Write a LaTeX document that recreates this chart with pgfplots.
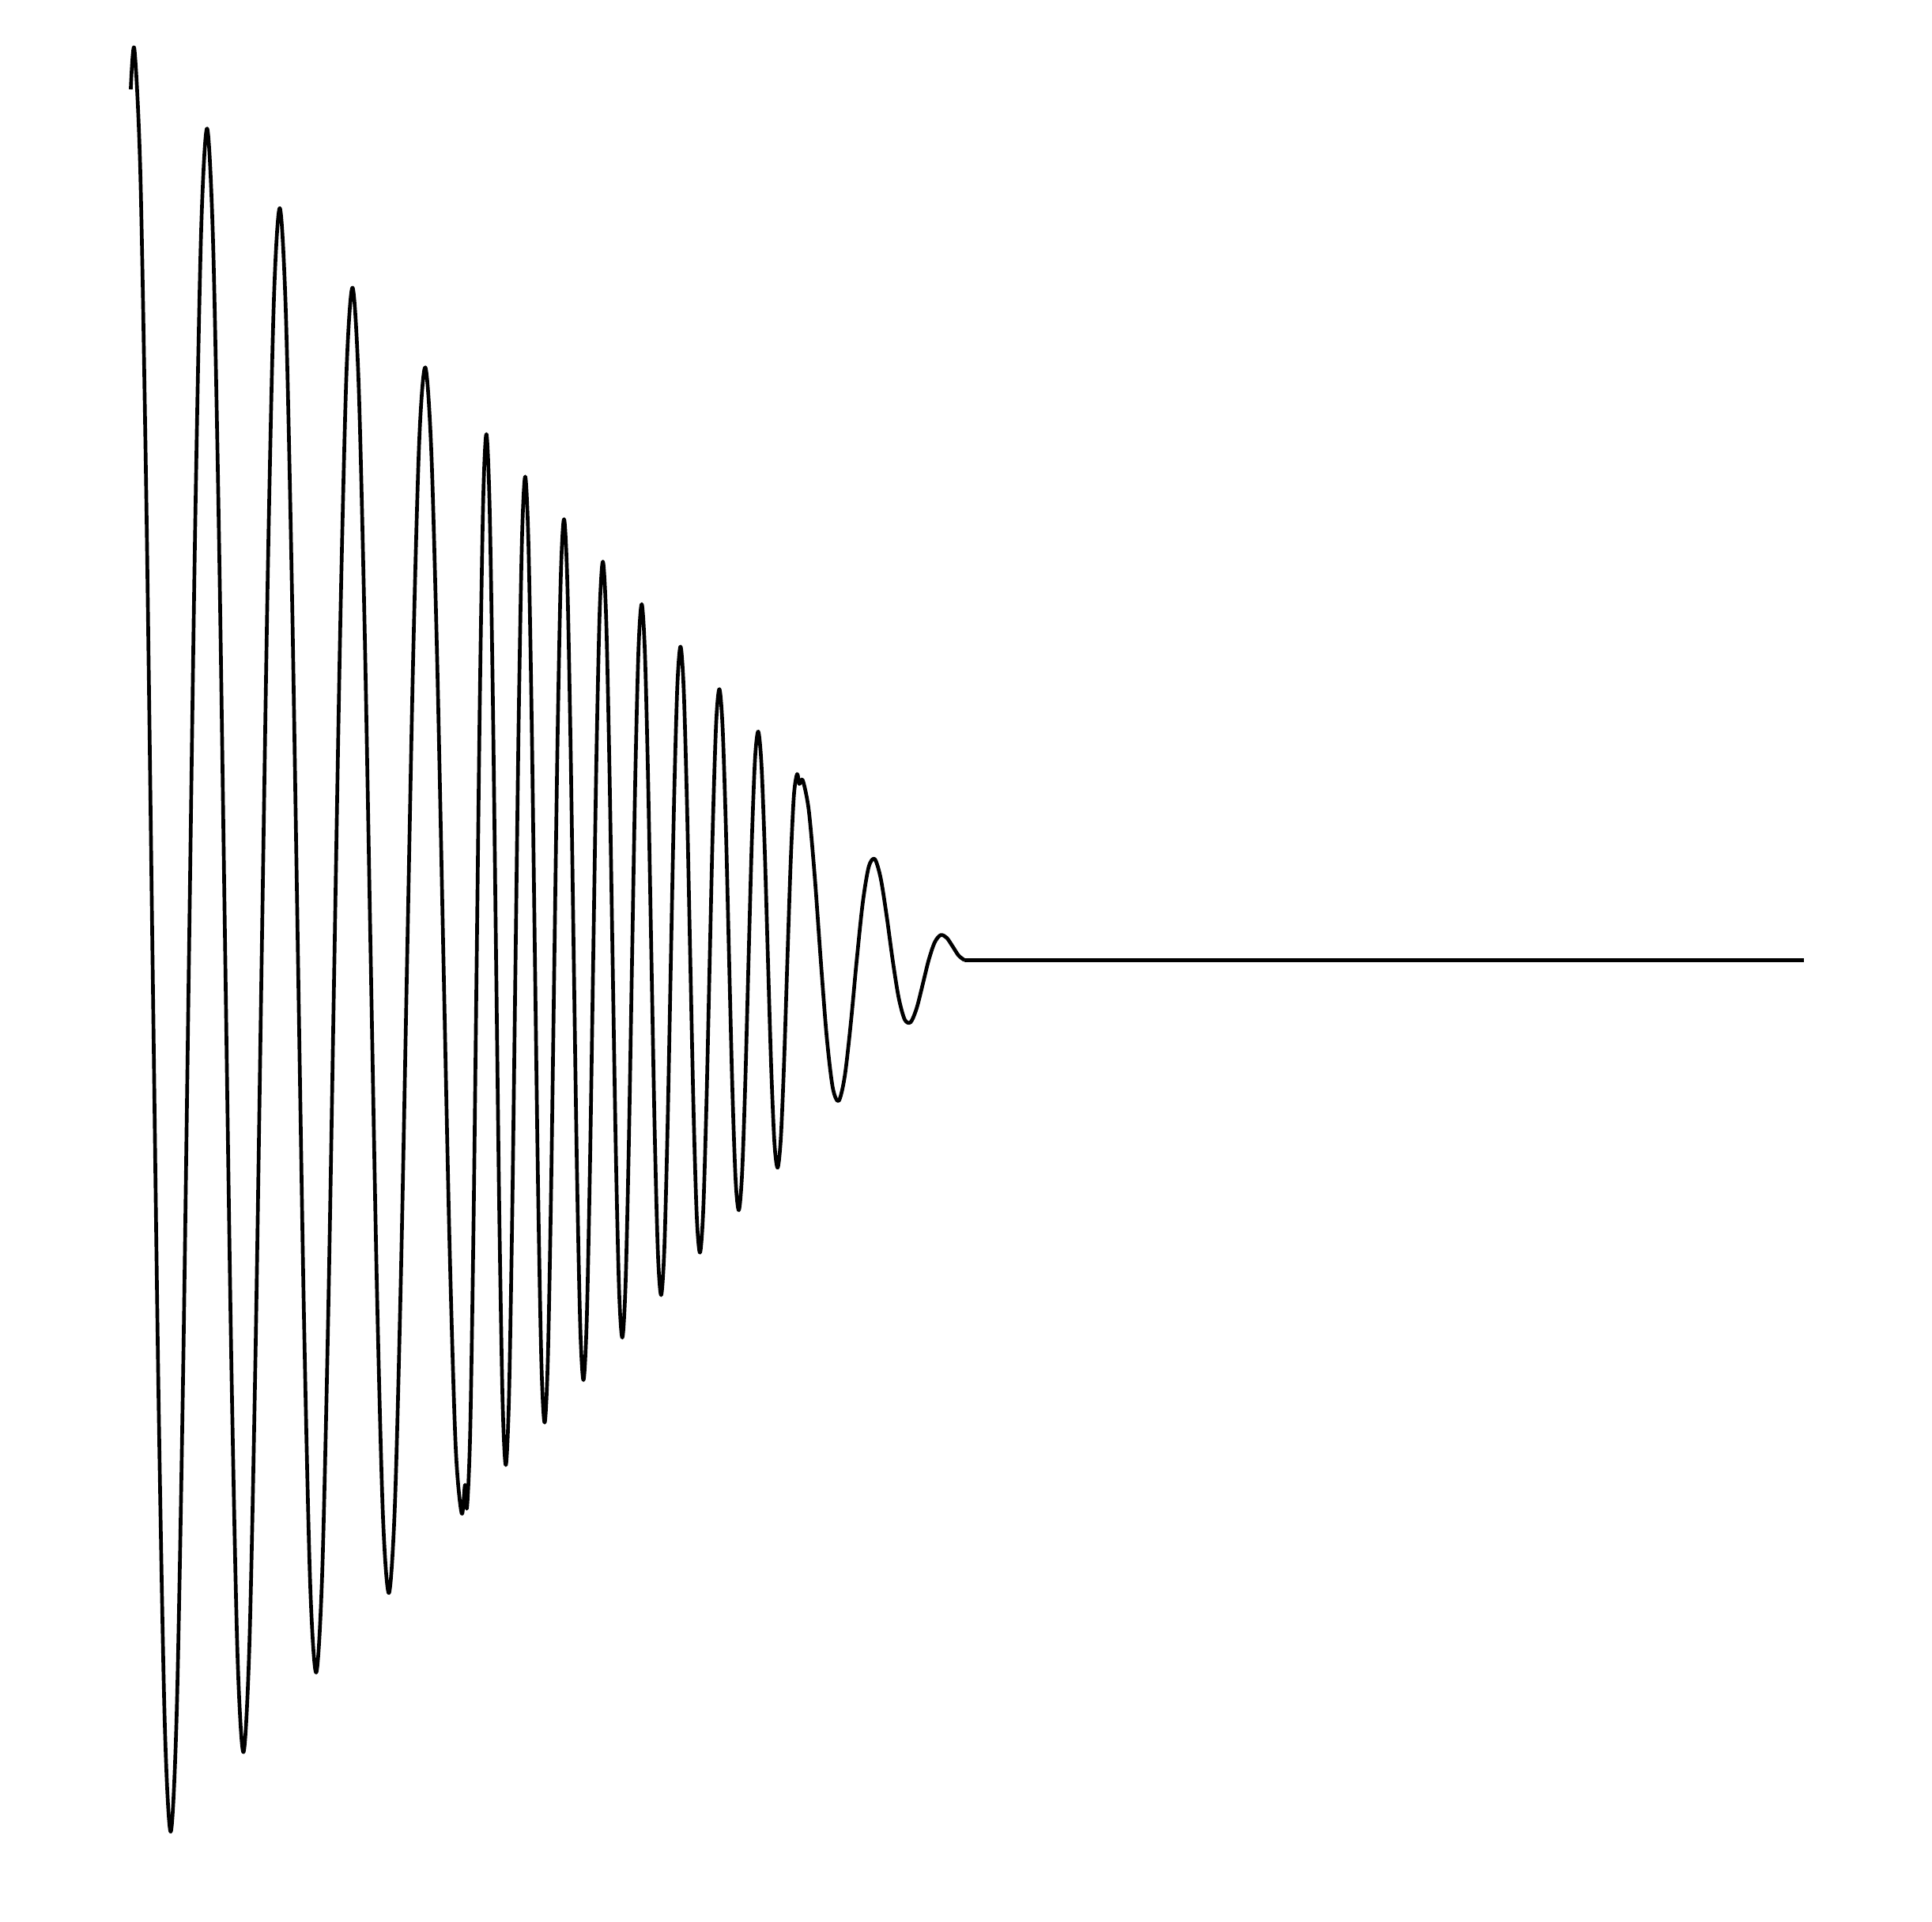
\documentclass[border=0pt]{standalone}
\usepackage{pgfplots}
\pgfplotsset{compat=1.18}
\pgfplotstableread{
x y
165.4 113
170 62.0
177.67 223.7
185.33 646.6
193 1214.5
200.67 1774.0
208.33 2176.3
216 2316.7
223.67 2161.7
231.33 1757.2
239 1214.5
246.67 680.2
254.33 296.3
262 162.6
269.67 310.8
277.33 696.9
285 1214.5
292.67 1723.7
300.33 2089.1
308 2216.1
315.67 2074.6
323.33 1706.9
331 1214.5
338.67 730.5
346.33 383.5
354 263.3
361.67 398.0
369.33 747.3
377 1214.5
384.67 1673.3
392.33 2002.0
400 2115.4
407.67 1987.4
415.33 1656.6
423 1214.5
430.67 780.8
438.33 470.6
446 363.9
453.67 485.2
461.33 797.6
469 1214.5
476.67 1623.0
484.33 1914.8
492 2014.8
499.67 1900.3
507.33 1606.2
515 1214.5
522.67 831.1
530.33 557.8
538 464.6
545.67 572.3
553.33 847.9
561 1214.5
568.67 1572.7
576.33 1827.6
584 1914.1
588.3 1878
590.74 1906.8
594.83 1810.1
598.92 1556.2
603.02 1214.5
607.11 877.3
611.21 634.4
615.3 549.1
619.39 642.1
623.49 886.3
627.58 1214.5
631.68 1538.2
635.77 1771.3
639.86 1853.0
643.96 1763.6
648.05 1529.3
652.15 1214.5
656.24 904.2
660.33 680.9
664.43 602.8
668.52 688.7
672.62 913.1
676.71 1214.5
680.80 1511.4
684.90 1724.8
688.99 1799.3
693.09 1717.0
697.18 1502.4
701.27 1214.5
705.37 931.1
709.46 727.5
713.56 656.6
717.65 735.2
721.74 940.0
725.84 1214.5
729.93 1484.5
734.03 1678.3
738.12 1745.5
742.21 1670.5
746.31 1475.5
750.40 1214.5
754.50 957.9
758.59 774.0
762.68 710.3
766.78 781.8
770.87 966.9
774.97 1214.5
779.06 1457.6
783.15 1631.7
787.25 1691.8
791.34 1623.9
795.44 1448.7
799.53 1214.5
803.62 984.8
807.72 820.6
811.81 764.1
815.91 828.4
820.00 993.8
824.09 1214.5
828.19 1430.7
832.28 1585.1
836.38 1638.0
840.47 1577.4
844.56 1421.8
848.66 1214.5
852.75 1011.7
856.85 867.1
860.94 817.8
865.03 874.9
869.13 1020.6
873.22 1214.5
877.32 1403.9
881.41 1538.6
885.50 1584.3
889.60 1530.8
893.69 1394.9
897.79 1214.5
901.88 1038.6
905.97 913.7
910.07 871.6
914.16 921.4
918.26 1047.5
922.35 1214.5
926.44 1377.0
930.54 1492.1
934.63 1530.6
938.73 1484.3
942.82 1368.1
946.91 1214.5
951.01 1065.4
955.10 960.2
959.20 925.3
963.29 967.9
967.38 1074.4
971.48 1214.5
975.57 1350.1
979.67 1445.6
983.76 1476.8
987.85 1437.8
991.95 1341.2
996.04 1214.5
1000.14 1092.3
1004.23 1006.7
1008.32 979.0
1011.2 991.5
1015.5 986.9
1023.08 1024.6
1030.67 1109.0
1038.25 1214.5
1045.83 1311.7
1053.42 1375.7
1061.0 1392.3
1068.58 1361.3
1076.17 1295.1
1083.75 1214.5
1091.33 1142.2
1098.92 1096.5
1106.5 1086.5
1114.08 1110.8
1121.67 1158.8
1129.25 1214.5
1136.83 1261.9
1144.42 1289.5
1152.0 1292.8
1159.58 1275.1
1167.17 1245.3
1174.75 1214.5
1182.33 1192.0
1189.92 1182.7
1197.5 1186.0
1205.08 1197.0
1212.67 1208.6
1220.25 1214.5
}\wave
\pgfplotstableread{
x y
1220.25 1214.5
2281.7 1214.5
}\flat
\begin{document}
\begin{tikzpicture}
\begin{axis}[
  at={(0,0)}, anchor=south west,
  width=366.6pt, height=364.5pt, scale only axis,
  xmin=0, xmax=2444, ymin=0, ymax=2430, y dir=reverse,
  hide axis, clip=false]
\addplot[black, line width=0.7pt, smooth, line join=round] table {\wave};
\addplot[black, line width=0.7pt] table {\flat};
\coordinate (p1) at (axis cs:0,0);
\coordinate (p2) at (axis cs:2444,2430);
\end{axis}
\pgfresetboundingbox
\path (p1) rectangle (p2);
\end{tikzpicture}
\end{document}
